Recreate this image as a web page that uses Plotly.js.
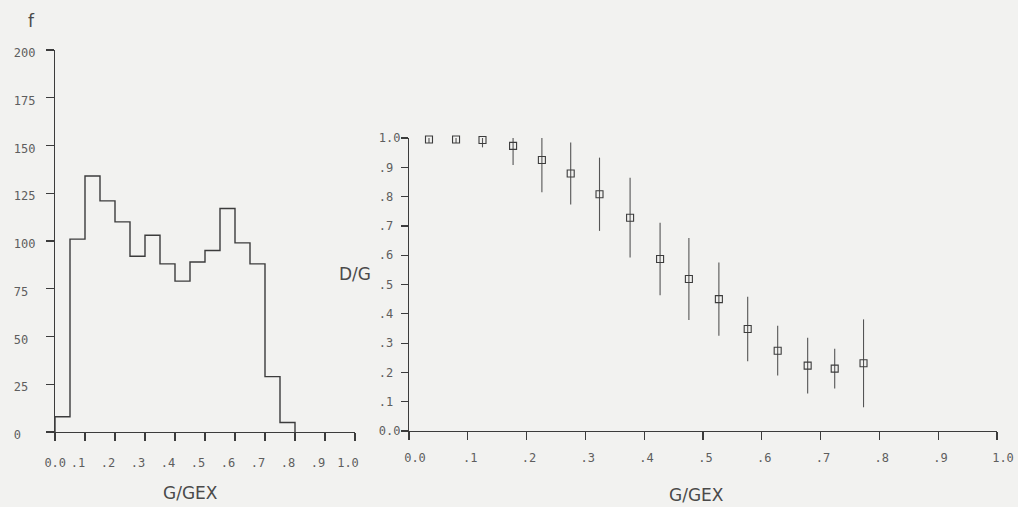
<!DOCTYPE html>
<html>
<head>
<meta charset="utf-8">
<script src="https://cdn.plot.ly/plotly-3.0.1.min.js"></script>
<style>
  html, body { margin: 0; padding: 0; background: #f2f2f0; }
  #chart { width: 1018px; height: 507px; }
</style>
</head>
<body>
<div id="chart"></div>
<script>
// ---- Left panel: frequency histogram of G/GEX ----
const binEdges = [0.00, 0.05, 0.10, 0.15, 0.20, 0.25, 0.30, 0.35, 0.40, 0.45, 0.50, 0.55, 0.60, 0.65, 0.70, 0.75, 0.80];
const binCounts = [8, 101, 134, 121, 110, 92, 103, 88, 79, 89, 95, 117, 99, 88, 29, 5];

// ---- Right panel: D/G vs G/GEX with error bars ----
const dgX   = [0.034, 0.080, 0.125, 0.177, 0.226, 0.275, 0.324, 0.376, 0.427, 0.476, 0.527, 0.576, 0.627, 0.678, 0.724, 0.773];
const dgY   = [0.995, 0.995, 0.993, 0.973, 0.925, 0.879, 0.808, 0.728, 0.587, 0.519, 0.450, 0.348, 0.274, 0.223, 0.213, 0.231];
const dgErr = [0.012, 0.012, 0.025, 0.065, 0.110, 0.106, 0.125, 0.136, 0.124, 0.140, 0.125, 0.110, 0.085, 0.095, 0.068, 0.150];

// ---- Tick labels ----
const gTickVals  = [0, 0.1, 0.2, 0.3, 0.4, 0.5, 0.6, 0.7, 0.8, 0.9, 1.0];
const gTickText  = ["0.0", ".1", ".2", ".3", ".4", ".5", ".6", ".7", ".8", ".9", "1.0"];
const fTickVals  = [0, 25, 50, 75, 100, 125, 150, 175, 200];
const fTickText  = ["0", "25", "50", "75", "100", "125", "150", "175", "200"];
const dgTickVals = [0, 0.1, 0.2, 0.3, 0.4, 0.5, 0.6, 0.7, 0.8, 0.9, 1.0];
const dgTickText = ["0.0", ".1", ".2", ".3", ".4", ".5", ".6", ".7", ".8", ".9", "1.0"];

// Build histogram outline (step) from bin edges and counts
const histX = [binEdges[0]];
const histY = [0];
for (let i = 0; i < binCounts.length; i++) {
  histX.push(binEdges[i], binEdges[i + 1]);
  histY.push(binCounts[i], binCounts[i]);
}
histX.push(binEdges[binEdges.length - 1]);
histY.push(0);

// Plotter-style label alignment (monospace, padded with no-break spaces)
const NB = '\u00A0';
const padRight = (s, n) => s + NB.repeat(Math.max(0, n - s.length));
const leftXText  = gTickText.map((s, i) => i === 0 ? NB + NB + s : s);   // right-aligned to tick, first label pushed right
const rightXText = gTickText.map(s => padRight(s, 3));                   // left-aligned
const leftYText  = fTickText.map(s => padRight(s, 3));                   // left-aligned column
const rightYText = dgTickText.map(s => padRight(s, 3));                  // left-aligned column

const ink = '#3c3c3c';
const textInk = '#5e5e5e';
const bg = '#f2f2f0';
const W = 1018, H = 507;

const traces = [
  {
    type: 'scatter', mode: 'lines',
    x: histX, y: histY,
    xaxis: 'x', yaxis: 'y',
    line: { color: ink, width: 1.4 },
    hoverinfo: 'skip'
  },
  {
    type: 'scatter', mode: 'markers',
    x: dgX, y: dgY,
    xaxis: 'x2', yaxis: 'y2',
    cliponaxis: false,
    marker: { symbol: 'square-open', size: 7, color: ink, line: { width: 1.1, color: ink } },
    error_y: { type: 'data', array: dgErr, visible: true, width: 0, thickness: 1.1, color: '#555' }
  }
];

const tickFont = { family: 'DejaVu Sans Mono, monospace', size: 12, color: textInk };
const titleFont = { family: 'DejaVu Sans, sans-serif', size: 17, color: '#4a4a4a' };

const axisCommon = {
  showline: true, linecolor: ink, linewidth: 1.2,
  ticks: 'outside', tickcolor: ink, tickwidth: 1.2,
  showgrid: false, zeroline: false, automargin: false,
  tickfont: tickFont, fixedrange: true, tickmode: 'array'
};

const layout = {
  width: W, height: H,
  margin: { l: 0, r: 0, t: 0, b: 0 },
  paper_bgcolor: bg, plot_bgcolor: bg,
  showlegend: false,
  xaxis: Object.assign({}, axisCommon, {
    domain: [55 / W, 355 / W], range: [0, 1], anchor: 'y',
    ticklen: 8, tickvals: gTickVals, ticktext: leftXText,
    ticklabelstandoff: 11, ticklabelshift: -7
  }),
  yaxis: Object.assign({}, axisCommon, {
    domain: [1 - 432 / H, 1 - 50 / H], range: [0, 200], anchor: 'x',
    ticklen: 8, tickvals: fTickVals, ticktext: leftYText,
    ticklabelstandoff: 8, ticklabelshift: 3
  }),
  xaxis2: Object.assign({}, axisCommon, {
    domain: [409 / W, 997 / W], range: [0, 1], anchor: 'y2',
    ticklen: 8, tickvals: gTickVals, ticktext: rightXText,
    ticklabelstandoff: 7, ticklabelshift: 6
  }),
  yaxis2: Object.assign({}, axisCommon, {
    domain: [1 - 431 / H, 1 - 138 / H], range: [0, 1], anchor: 'x2',
    ticklen: 7, tickvals: dgTickVals, ticktext: rightYText,
    ticklabelstandoff: -2
  }),
  annotations: [
    { text: 'f', xref: 'paper', yref: 'paper', x: 32 / W, y: 1 - 21 / H, showarrow: false,
      xanchor: 'center', yanchor: 'middle', font: titleFont },
    { text: 'G/GEX', xref: 'paper', yref: 'paper', x: 190 / W, y: 1 - 493 / H, showarrow: false,
      xanchor: 'center', yanchor: 'middle', font: titleFont },
    { text: 'G/GEX', xref: 'paper', yref: 'paper', x: 696 / W, y: 1 - 495 / H, showarrow: false,
      xanchor: 'center', yanchor: 'middle', font: titleFont },
    { text: 'D/G', xref: 'paper', yref: 'paper', x: 355 / W, y: 1 - 274 / H, showarrow: false,
      xanchor: 'center', yanchor: 'middle', font: titleFont }
  ]
};

Plotly.newPlot('chart', traces, layout, { staticPlot: true, displayModeBar: false });
</script>
</body>
</html>
